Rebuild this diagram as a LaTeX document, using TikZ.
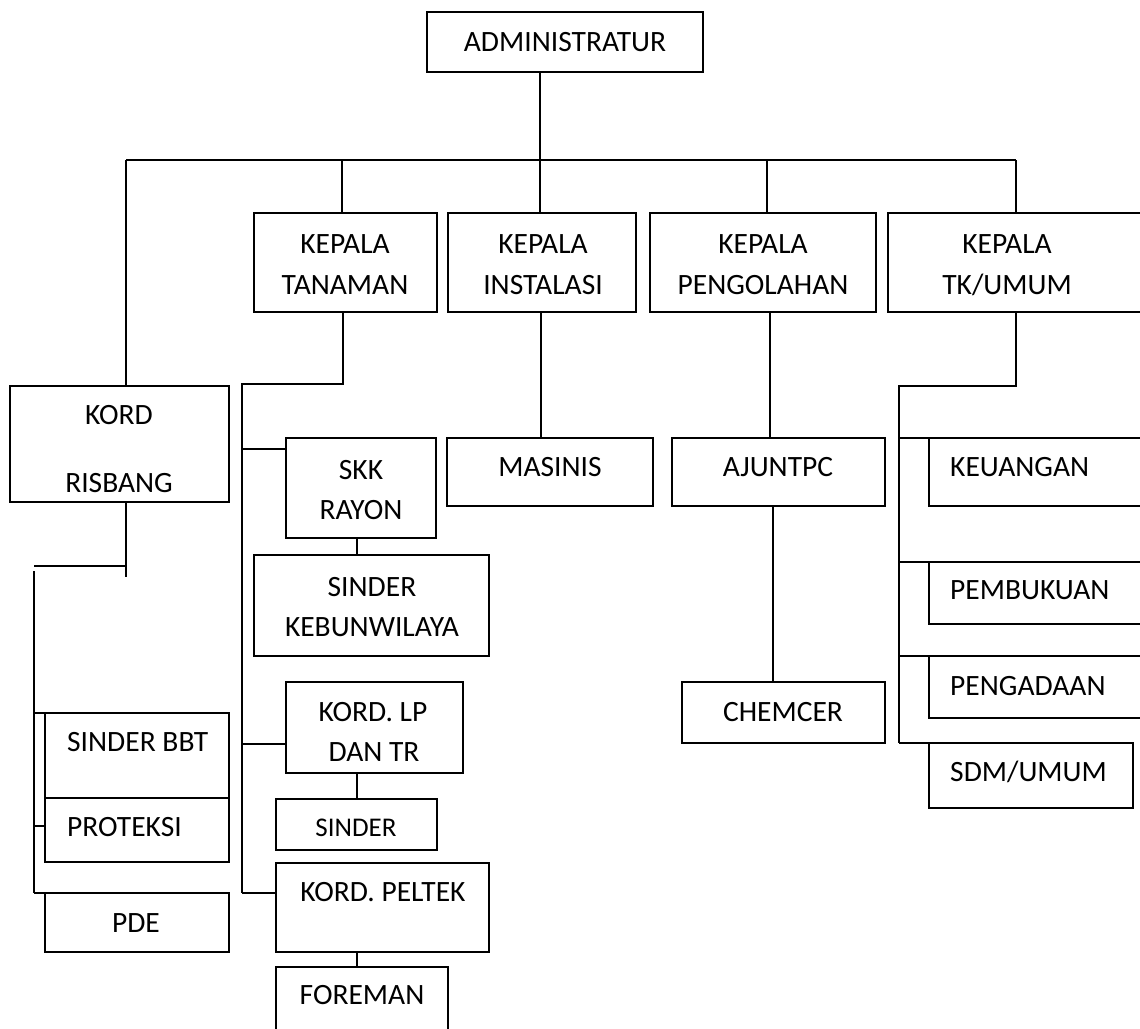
\documentclass[tikz,border=0pt]{standalone}
\usepackage{fontspec}
\setmainfont{Carlito}
% box given by its top-left and bottom-right corners
\newcommand\orgbox[5]{%
  \node[box,anchor=north west,minimum width={(#4-#2)*1pt},minimum height={(#5-#3)*1pt}] (#1) at (#2,#3) {};}
\begin{document}
\begin{tikzpicture}[x=1pt,y=-1pt,
  box/.style={draw,line width=1.4pt,inner sep=0pt,outer sep=0pt},
  link/.style={line width=1.7pt},
  lbl/.style={inner sep=0pt,font=\fontsize{29.5}{34}\selectfont},
  lblw/.style={lbl,anchor=west},
  small/.style={inner sep=0pt,font=\fontsize{27}{31}\selectfont}]
\useasboundingbox (0,0) rectangle (1140,1028);
\clip (0,0) rectangle (1140,1028);

% boxes
\orgbox{adm}{427}{12}{703}{72}
\orgbox{kt}{254}{213}{437}{312}
\orgbox{ki}{448}{213}{636}{312}
\orgbox{kp}{650}{213}{876}{312}
\orgbox{ku}{888}{213}{1150}{312}
\orgbox{kr}{10}{386}{229}{502}
\orgbox{skk}{286}{438}{436}{538}
\orgbox{skw}{254}{555}{489}{656}
\orgbox{klp}{286}{682}{463}{773}
\orgbox{sin}{276}{799}{437}{850}
\orgbox{kpt}{276}{863}{489}{952}
\orgbox{fore}{276}{967}{448}{1040}
\orgbox{mas}{447}{438}{653}{506}
\orgbox{aju}{672}{438}{885}{506}
\orgbox{chem}{682}{682}{885}{743}
\orgbox{keu}{929}{438}{1150}{506}
\orgbox{pemb}{929}{562}{1150}{624}
\orgbox{peng}{929}{656}{1150}{718}
\orgbox{sdm}{929}{743}{1133}{808}
\orgbox{bbt}{45}{713}{229}{798}
\orgbox{prot}{45}{798}{229}{862}
\orgbox{pde}{45}{893}{229}{952}

% labels
\node[lbl] (t-adm) at (565,42) {ADMINISTRATUR};
\node[lbl] (t-kt1) at (345,244) {KEPALA};
\node[lbl] (t-kt2) at (345,285) {TANAMAN};
\node[lbl] (t-ki1) at (543,244) {KEPALA};
\node[lbl] (t-ki2) at (543,285) {INSTALASI};
\node[lbl] (t-kp1) at (763,244) {KEPALA};
\node[lbl] (t-kp2) at (763,285) {PENGOLAHAN};
\node[lbl] (t-ku1) at (1007,244) {KEPALA};
\node[lbl] (t-ku2) at (1007,285) {TK/UMUM};
\node[lbl] (t-kr1) at (119,415) {KORD};
\node[lbl] (t-kr2) at (119,483) {RISBANG};
\node[lbl] (t-skk1) at (361,470) {SKK};
\node[lbl] (t-skk2) at (361,510) {RAYON};
\node[lbl] (t-skw1) at (372,587) {SINDER};
\node[lbl] (t-skw2) at (372,627) {KEBUNWILAYA};
\node[lbl] (t-klp1) at (373,712) {KORD. LP};
\node[lbl] (t-klp2) at (374,752) {DAN TR};
\node[small] (t-sin) at (356,828) {SINDER};
\node[lbl] (t-kpt) at (383,892) {KORD. PELTEK};
\node[lbl] (t-fore) at (362,995) {FOREMAN};
\node[lbl] (t-mas) at (550,467) {MASINIS};
\node[lbl] (t-aju) at (778,467) {AJUNTPC};
\node[lbl] (t-chem) at (783,712) {CHEMCER};
\node[lblw] (t-keu) at (950,467) {KEUANGAN};
\node[lblw] (t-pemb) at (950,590) {PEMBUKUAN};
\node[lblw] (t-peng) at (950,686) {PENGADAAN};
\node[lblw] (t-sdm) at (950,772) {SDM/UMUM};
\node[lblw] (t-bbt) at (67,742) {SINDER BBT};
\node[lblw] (t-prot) at (67,827) {PROTEKSI};
\node[lbl] (t-pde) at (136,923) {PDE};

% junction points
\coordinate (j0) at (540,160);
\coordinate (jl) at (126,160);
\coordinate (jt) at (342,160);
\coordinate (jp) at (767,160);
\coordinate (jr) at (1016,160);
\coordinate (ta) at (343,384);
\coordinate (tb) at (242,384);
\coordinate (ra) at (126,577);
\coordinate (rb) at (34,566);
\coordinate (rc) at (34,571);
\coordinate (ua) at (1016,386);
\coordinate (ub) at (899,386);

% connectors
\draw[link] (jl) -- (jr);
\draw[link] (adm.south -| j0) -- (j0);
\draw[link] (jl) -- (kr.north -| jl);
\draw[link] (jt) -- (kt.north -| jt);
\draw[link] (j0) -- (ki.north -| j0);
\draw[link] (jp) -- (kp.north -| jp);
\draw[link] (jr) -- (ku.north -| jr);

% KEPALA TANAMAN branch
\draw[link] (kt.south -| ta) -- (ta) -- (tb) -- (tb |- 0,893);
\draw[link] (tb |- 0,449) -- (skk.west |- 0,449);
\draw[link] (tb |- 0,744) -- (klp.west |- 0,744);
\draw[link] (tb |- 0,893) -- (kpt.west |- 0,893);
\draw[link] (skk.south -| 357,0) -- (skw.north -| 357,0);
\draw[link] (klp.south -| 357,0) -- (sin.north -| 357,0);
\draw[link] (kpt.south -| 357,0) -- (fore.north -| 357,0);

% KORD RISBANG branch
\draw[link] (kr.south -| ra) -- (ra);
\draw[link] (rb) -- (rb -| ra);
\draw[link] (rc) -- (rc |- pde.north);
\draw[link] (rc |- bbt.north) -- (bbt.north west);
\draw[link] (rc |- 0,826) -- (prot.west |- 0,826);
\draw[link] (rc |- pde.north) -- (pde.north west);

% KEPALA INSTALASI and KEPALA PENGOLAHAN branches
\draw[link] (ki.south -| 541,0) -- (mas.north -| 541,0);
\draw[link] (kp.south -| 770,0) -- (aju.north -| 770,0);
\draw[link] (aju.south -| 773,0) -- (chem.north -| 773,0);

% KEPALA TK/UMUM branch
\draw[link] (ku.south -| ua) -- (ua) -- (ub) -- (ub |- sdm.north);
\draw[link] (ub |- keu.north) -- (keu.north west);
\draw[link] (ub |- pemb.north) -- (pemb.north west);
\draw[link] (ub |- peng.north) -- (peng.north west);
\draw[link] (ub |- sdm.north) -- (sdm.north west);
\end{tikzpicture}
\end{document}
